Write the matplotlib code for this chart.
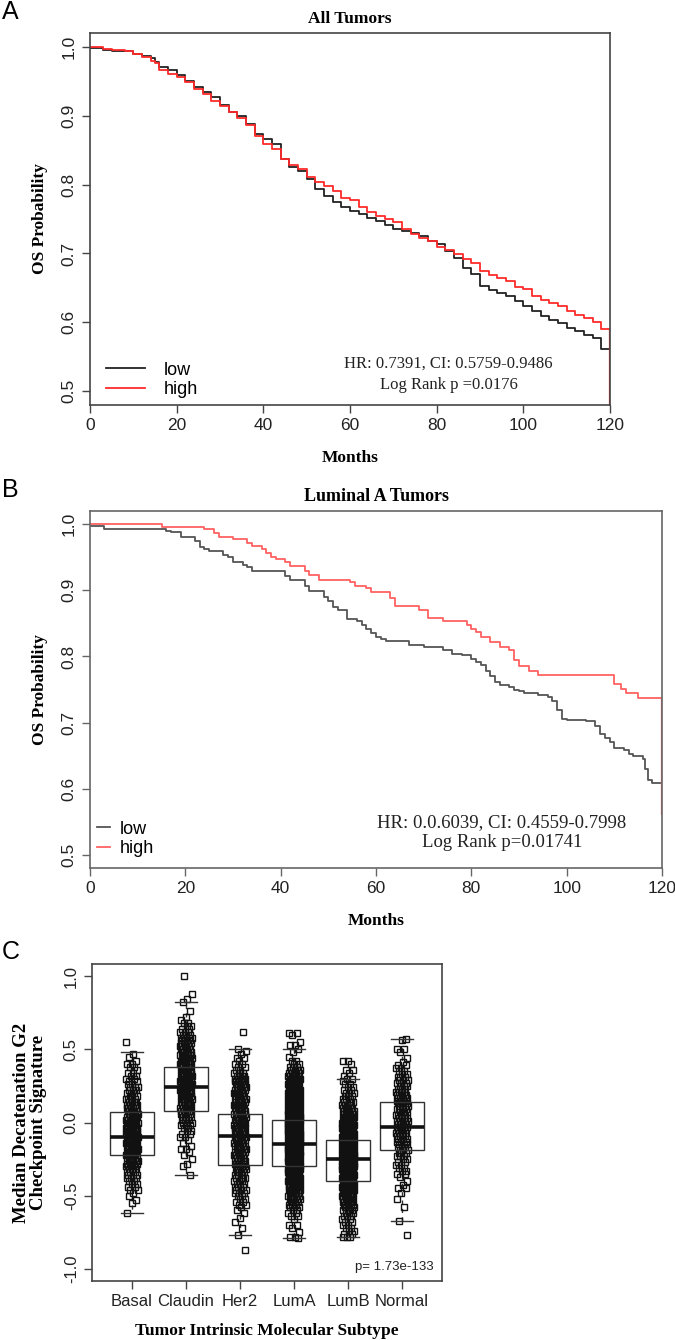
import numpy as np
import matplotlib
matplotlib.use("Agg")
import matplotlib.pyplot as plt

SERIF = "Liberation Serif"
SANS = "Liberation Sans"

# Panel A: all tumors, KM curves (months, OS probability)
a_t = [0, 3, 5, 8, 10, 12, 14, 15, 16, 18, 20, 22, 24, 26, 28, 30, 32, 34, 36, 38,
       40, 42, 44, 46, 48, 50, 52, 54, 56, 58, 60, 62, 64, 66, 68, 70, 72, 74, 76, 78,
       80, 82, 84, 86, 88, 90, 92, 94, 96, 98, 100, 102, 104, 106, 108, 110, 112, 114,
       116, 118, 120]
a_low = [0.998, 0.995, 0.994, 0.994, 0.990, 0.987, 0.984, 0.978, 0.971, 0.967, 0.959,
         0.950, 0.942, 0.934, 0.927, 0.915, 0.905, 0.900, 0.888, 0.874, 0.866, 0.859,
         0.837, 0.825, 0.820, 0.808, 0.793, 0.784, 0.774, 0.767, 0.762, 0.757, 0.752,
         0.747, 0.741, 0.736, 0.733, 0.730, 0.726, 0.718, 0.713, 0.703, 0.694, 0.679,
         0.670, 0.653, 0.647, 0.643, 0.638, 0.631, 0.624, 0.616, 0.609, 0.604, 0.599,
         0.592, 0.587, 0.582, 0.577, 0.562, 0.558]
a_high = [1.000, 0.997, 0.996, 0.994, 0.990, 0.985, 0.980, 0.977, 0.966, 0.961, 0.956,
          0.949, 0.939, 0.932, 0.922, 0.914, 0.905, 0.896, 0.886, 0.870, 0.859, 0.851,
          0.837, 0.828, 0.822, 0.811, 0.804, 0.798, 0.791, 0.781, 0.777, 0.767, 0.760,
          0.755, 0.750, 0.745, 0.735, 0.728, 0.723, 0.718, 0.709, 0.705, 0.699, 0.692,
          0.686, 0.674, 0.669, 0.665, 0.660, 0.652, 0.648, 0.638, 0.633, 0.628, 0.624,
          0.616, 0.611, 0.606, 0.601, 0.591, 0.590]
a_high_end = 0.48

# Panel B: luminal A tumors
b_low_t = [0, 3, 16, 17, 19, 22, 23, 24, 25, 28, 29, 30, 32, 33, 34, 41, 42, 45, 46, 49,
           50, 51, 52, 54, 56, 57, 58, 59, 60, 61, 62, 67, 70, 74, 76, 78, 80, 81, 82, 83,
           84, 85, 86, 88, 89, 90, 91, 94, 96, 97, 98, 99, 100, 104, 106, 107, 108, 109,
           110, 112, 113, 114, 116, 116.5, 117, 118, 120]
b_low = [0.997, 0.993, 0.990, 0.988, 0.980, 0.975, 0.966, 0.962, 0.959, 0.954, 0.951,
         0.943, 0.939, 0.935, 0.930, 0.922, 0.915, 0.906, 0.899, 0.890, 0.884, 0.875,
         0.870, 0.857, 0.854, 0.847, 0.842, 0.835, 0.830, 0.827, 0.824, 0.817, 0.814,
         0.809, 0.804, 0.802, 0.796, 0.792, 0.787, 0.778, 0.770, 0.762, 0.757, 0.754,
         0.750, 0.748, 0.745, 0.741, 0.738, 0.733, 0.719, 0.706, 0.704, 0.702, 0.695,
         0.682, 0.677, 0.671, 0.661, 0.658, 0.653, 0.649, 0.645, 0.629, 0.613, 0.608, 0.608]
b_high_t = [0, 15, 24, 26, 27, 30, 33, 34, 36, 37, 38, 39, 41, 42, 45, 46, 48, 54.5, 55.5,
            58, 59, 63, 64, 69, 71, 74, 79, 80, 81, 82, 84, 86, 88, 89, 90, 92, 94, 110,
            111.5, 112.5, 115, 120]
b_high = [1.000, 0.996, 0.993, 0.986, 0.980, 0.977, 0.972, 0.967, 0.962, 0.957, 0.950,
          0.947, 0.943, 0.937, 0.930, 0.923, 0.916, 0.913, 0.907, 0.904, 0.897, 0.889,
          0.876, 0.870, 0.858, 0.854, 0.847, 0.842, 0.837, 0.829, 0.822, 0.815, 0.810,
          0.794, 0.786, 0.778, 0.772, 0.759, 0.751, 0.744, 0.737, 0.737]
b_high_end = 0.56

# Panel C: signature by subtype
subtypes = ["Basal", "Claudin", "Her2", "LumA", "LumB", "Normal"]
box_med = [-0.10, 0.24, -0.09, -0.15, -0.25, -0.03]
box_q1 = [-0.22, 0.08, -0.29, -0.30, -0.40, -0.19]
box_q3 = [0.07, 0.38, 0.06, 0.02, -0.12, 0.14]
whis_lo = [-0.62, -0.36, -0.77, -0.79, -0.78, -0.67]
whis_hi = [0.48, 0.82, 0.50, 0.50, 0.30, 0.57]

# sample values as (value, how many samples near it)
basal_pts = [(0.55, 1), (0.47, 1), (0.45, 1), (0.42, 1), (0.40, 2), (0.38, 2), (0.36, 1),
             (0.34, 2), (0.32, 2), (0.30, 2), (0.28, 2), (0.26, 2), (0.24, 3), (0.22, 3),
             (0.20, 3), (0.18, 3), (0.16, 4), (0.14, 4), (0.12, 4), (0.10, 5), (0.08, 5),
             (0.06, 5), (0.04, 6), (0.02, 6), (0.00, 7), (-0.02, 7), (-0.04, 7),
             (-0.06, 8), (-0.08, 8), (-0.10, 8), (-0.12, 8), (-0.14, 8), (-0.16, 8),
             (-0.18, 7), (-0.20, 7), (-0.22, 6), (-0.24, 6), (-0.26, 5), (-0.28, 5),
             (-0.30, 4), (-0.32, 4), (-0.34, 3), (-0.36, 3), (-0.38, 3), (-0.40, 2),
             (-0.42, 2), (-0.44, 2), (-0.46, 2), (-0.48, 1), (-0.50, 1), (-0.53, 1),
             (-0.55, 1), (-0.62, 1)]
claudin_pts = [(1.00, 1), (0.88, 1), (0.84, 1), (0.82, 1), (0.76, 1), (0.72, 1), (0.70, 1),
               (0.68, 2), (0.66, 2), (0.64, 2), (0.62, 3), (0.60, 3), (0.58, 4), (0.56, 4),
               (0.54, 4), (0.52, 5), (0.50, 5), (0.48, 5), (0.46, 6), (0.44, 6), (0.42, 6),
               (0.40, 6), (0.38, 6), (0.36, 6), (0.34, 6), (0.32, 7), (0.30, 7), (0.28, 7),
               (0.26, 7), (0.24, 7), (0.22, 7), (0.20, 6), (0.18, 6), (0.16, 6), (0.14, 5),
               (0.12, 5), (0.10, 5), (0.08, 5), (0.06, 4), (0.04, 4), (0.02, 3), (0.00, 3),
               (-0.02, 3), (-0.04, 2), (-0.06, 2), (-0.08, 2), (-0.10, 2), (-0.12, 1),
               (-0.14, 1), (-0.16, 1), (-0.18, 2), (-0.20, 1), (-0.22, 1), (-0.25, 1),
               (-0.28, 1), (-0.30, 1), (-0.36, 1)]
her2_pts = [(0.62, 1), (0.50, 1), (0.49, 1), (0.47, 1), (0.44, 2), (0.42, 1), (0.40, 2),
            (0.38, 2), (0.36, 2), (0.34, 3), (0.32, 4), (0.30, 5), (0.28, 5), (0.26, 6),
            (0.24, 5), (0.22, 5), (0.20, 6), (0.18, 5), (0.16, 5), (0.14, 5), (0.12, 6),
            (0.10, 5), (0.08, 5), (0.06, 5), (0.04, 6), (0.02, 5), (0.00, 5), (-0.02, 5),
            (-0.04, 6), (-0.06, 5), (-0.08, 5), (-0.10, 6), (-0.12, 5), (-0.14, 5),
            (-0.16, 5), (-0.18, 5), (-0.20, 5), (-0.22, 4), (-0.24, 5), (-0.26, 4),
            (-0.28, 4), (-0.30, 4), (-0.32, 4), (-0.34, 4), (-0.36, 3), (-0.38, 4),
            (-0.40, 3), (-0.42, 3), (-0.44, 3), (-0.46, 3), (-0.48, 3), (-0.50, 2),
            (-0.52, 2), (-0.54, 2), (-0.56, 2), (-0.58, 1), (-0.60, 1), (-0.62, 1),
            (-0.65, 1), (-0.68, 1), (-0.72, 1), (-0.77, 1), (-0.87, 1)]
luma_pts = [(0.61, 2), (0.60, 1), (0.55, 1), (0.53, 2), (0.50, 1), (0.48, 1), (0.45, 1),
            (0.42, 2), (0.40, 2), (0.38, 3), (0.36, 4), (0.34, 5), (0.32, 6), (0.30, 7),
            (0.28, 8), (0.26, 9), (0.24, 10), (0.22, 11), (0.20, 12), (0.18, 13),
            (0.16, 14), (0.14, 15), (0.12, 16), (0.10, 17), (0.08, 18), (0.06, 18),
            (0.04, 19), (0.02, 19), (0.00, 20), (-0.02, 20), (-0.04, 20), (-0.06, 21),
            (-0.08, 21), (-0.10, 21), (-0.12, 21), (-0.14, 21), (-0.16, 21), (-0.18, 20),
            (-0.20, 20), (-0.22, 19), (-0.24, 18), (-0.26, 17), (-0.28, 16), (-0.30, 15),
            (-0.32, 14), (-0.34, 13), (-0.36, 12), (-0.38, 11), (-0.40, 10), (-0.42, 9),
            (-0.44, 8), (-0.46, 7), (-0.48, 6), (-0.50, 5), (-0.52, 5), (-0.54, 4),
            (-0.56, 3), (-0.58, 3), (-0.60, 2), (-0.62, 2), (-0.64, 2), (-0.66, 1),
            (-0.70, 2), (-0.72, 1), (-0.75, 1), (-0.78, 2), (-0.79, 1)]
lumb_pts = [(0.42, 2), (0.40, 1), (0.36, 2), (0.34, 1), (0.32, 1), (0.30, 2), (0.28, 1),
            (0.26, 2), (0.24, 2), (0.22, 2), (0.20, 3), (0.18, 3), (0.16, 3), (0.14, 4),
            (0.12, 4), (0.10, 5), (0.08, 5), (0.06, 6), (0.04, 6), (0.02, 7), (0.00, 8),
            (-0.02, 8), (-0.04, 9), (-0.06, 10), (-0.08, 11), (-0.10, 12), (-0.12, 13),
            (-0.14, 14), (-0.16, 15), (-0.18, 15), (-0.20, 16), (-0.22, 16), (-0.24, 16),
            (-0.26, 16), (-0.28, 16), (-0.30, 15), (-0.32, 15), (-0.34, 14), (-0.36, 13),
            (-0.38, 12), (-0.40, 11), (-0.42, 10), (-0.44, 9), (-0.46, 8), (-0.48, 7),
            (-0.50, 6), (-0.52, 6), (-0.54, 5), (-0.56, 5), (-0.58, 4), (-0.60, 4),
            (-0.62, 3), (-0.64, 3), (-0.66, 2), (-0.68, 2), (-0.70, 2), (-0.72, 2),
            (-0.74, 2), (-0.76, 2), (-0.78, 3)]
normal_pts = [(0.57, 1), (0.56, 1), (0.50, 2), (0.48, 1), (0.44, 1), (0.41, 1), (0.39, 2),
              (0.37, 2), (0.35, 2), (0.33, 2), (0.31, 3), (0.29, 3), (0.27, 3), (0.25, 3),
              (0.23, 3), (0.21, 4), (0.19, 4), (0.17, 4), (0.15, 4), (0.13, 4), (0.11, 4),
              (0.09, 4), (0.07, 4), (0.05, 4), (0.03, 4), (0.01, 4), (-0.01, 4),
              (-0.03, 4), (-0.05, 4), (-0.07, 4), (-0.09, 4), (-0.11, 3), (-0.13, 3),
              (-0.15, 3), (-0.17, 3), (-0.19, 3), (-0.21, 3), (-0.23, 3), (-0.25, 2),
              (-0.27, 2), (-0.29, 2), (-0.31, 2), (-0.33, 2), (-0.35, 2), (-0.37, 1),
              (-0.40, 1), (-0.43, 1), (-0.45, 2), (-0.48, 1), (-0.52, 1), (-0.58, 1),
              (-0.67, 1), (-0.77, 1)]
group_pts = [basal_pts, claudin_pts, her2_pts, luma_pts, lumb_pts, normal_pts]


W, H = 675, 1340


def rect(l, t, r, b):
    return [l / W, 1 - b / H, (r - l) / W, (b - t) / H]


def km_axes(ax, spine_col):
    ax.set_xlim(0, 120)
    ax.set_ylim(0.48, 1.02)
    ax.set_xticks([0, 20, 40, 60, 80, 100, 120])
    ax.set_yticks([0.5, 0.6, 0.7, 0.8, 0.9, 1.0])
    ax.set_yticklabels(["0.5", "0.6", "0.7", "0.8", "0.9", "1.0"], rotation=90, va="center")
    ax.tick_params(direction="out", length=6, width=1, colors=spine_col, labelcolor="#222",
                   labelsize=12.5)
    for lab in ax.get_xticklabels() + ax.get_yticklabels():
        lab.set_fontfamily(SANS)
    for sp in ax.spines.values():
        sp.set_color(spine_col)
        sp.set_linewidth(1.2)
    ax.set_ylabel("OS Probability", fontfamily=SERIF, fontweight="bold", fontsize=12.5,
                  labelpad=10)
    ax.set_xlabel("Months", fontfamily=SERIF, fontweight="bold", fontsize=12.5, labelpad=12)


fig = plt.figure(figsize=(6.75, 13.4), dpi=100)

# ---- A
ax = fig.add_axes(rect(90, 33, 610, 405))
ax.step(a_t, a_low, where="post", color="#222222", lw=1.3, label="low")
ax.step(a_t, a_high, where="post", color="#ff2a2a", lw=1.3, label="high")
ax.vlines(120, a_high_end, a_high[-1], color="#ff2a2a", lw=1.6)
km_axes(ax, "#444444")
ax.set_title("All Tumors", fontfamily=SERIF, fontweight="bold", fontsize=12.5, pad=7)
ax.legend(loc="lower left", bbox_to_anchor=(0.03, 0.018), frameon=False,
          prop={"family": SANS, "size": 13}, handlelength=2.2, handletextpad=1.0,
          labelspacing=0.15, borderpad=0, borderaxespad=0)
ax.text(0.69, 0.083, "HR: 0.7391, CI: 0.5759-0.9486\nLog Rank p =0.0176",
        transform=ax.transAxes, ha="center", va="center", fontfamily=SERIF,
        fontsize=12, linespacing=1.4, color="#222")

# ---- B
ax = fig.add_axes(rect(90, 511, 662, 868))
ax.step(b_low_t, b_low, where="post", color="#555555", lw=1.3, label="low")
ax.step(b_high_t, b_high, where="post", color="#ff6262", lw=1.3, label="high")
ax.vlines(120, b_high_end, b_high[-1], color="#ff6262", lw=1.6)
km_axes(ax, "#666666")
ax.set_title("Luminal A Tumors", fontfamily=SERIF, fontweight="bold", fontsize=13, pad=7)
ax.legend(loc="lower left", bbox_to_anchor=(0.012, 0.03), frameon=False,
          prop={"family": SANS, "size": 13}, handlelength=0.75, handletextpad=0.5,
          labelspacing=0.15, borderpad=0, borderaxespad=0)
ax.text(0.72, 0.10, "HR: 0.0.6039, CI: 0.4559-0.7998\nLog Rank p=0.01741",
        transform=ax.transAxes, ha="center", va="center", fontfamily=SERIF,
        fontsize=13.5, linespacing=1.2, color="#222")

# ---- C
ax = fig.add_axes(rect(92, 964, 442, 1281))
pos = np.arange(1, len(subtypes) + 1)
stats = []
for i, name in enumerate(subtypes):
    stats.append({"label": name, "med": box_med[i], "q1": box_q1[i], "q3": box_q3[i],
                  "whislo": whis_lo[i], "whishi": whis_hi[i], "fliers": []})
ax.bxp(stats, positions=pos, widths=0.8, showfliers=False, patch_artist=True,
       boxprops={"facecolor": "none", "edgecolor": "#333", "lw": 1.0, "zorder": 4},
       medianprops={"color": "#111", "lw": 2.6, "zorder": 5},
       whiskerprops={"color": "#333", "lw": 1.0, "ls": (0, (3, 3)), "zorder": 2},
       capprops={"color": "#333", "lw": 1.0, "zorder": 4}, capwidths=0.4)
for i, table in enumerate(group_pts):
    vals = np.array([v for v, n in table])
    counts = np.array([n for v, n in table])
    y = np.repeat(vals, counts)
    k = np.arange(len(y))
    # strip-chart jitter: spread evenly across the column
    off = ((k * 0.618034 + 0.37 * i) % 1.0 - 0.5) * 0.22
    ax.plot(pos[i] + off, y, ls="none", marker="s", ms=4.2, mfc="none", mec="#111111",
            mew=1.0, zorder=3)
ax.set_xlim(0.26, 6.74)
ax.set_ylim(-1.082, 1.082)
ax.set_xticks(pos)
ax.set_xticklabels(subtypes)
ax.set_yticks([-1.0, -0.5, 0.0, 0.5, 1.0])
ax.set_yticklabels(["-1.0", "-0.5", "0.0", "0.5", "1.0"], rotation=90, va="center")
ax.tick_params(direction="out", length=6, width=1, colors="#444", labelcolor="#222",
               labelsize=12)
for lab in ax.get_xticklabels() + ax.get_yticklabels():
    lab.set_fontfamily(SANS)
for sp in ax.spines.values():
    sp.set_color("#444")
    sp.set_linewidth(1.2)
ax.set_ylabel("Median Decatenation G2\nCheckpoint Signature", fontfamily=SERIF,
              fontweight="bold", fontsize=13.5, labelpad=12, linespacing=1.0)
ax.set_xlabel("Tumor Intrinsic Molecular Subtype", fontfamily=SERIF, fontweight="bold",
              fontsize=12.5, labelpad=10)
ax.text(0.975, 0.045, "p= 1.73e-133", transform=ax.transAxes, ha="right", va="center",
        fontfamily=SANS, fontsize=9.5, color="#222")

# panel letters
for letter, y in [("A", 12), ("B", 490), ("C", 952)]:
    fig.text(2 / W, 1 - y / H, letter, fontfamily=SANS, fontsize=18, va="center",
             ha="left")

fig.savefig("out.png", dpi=100)
